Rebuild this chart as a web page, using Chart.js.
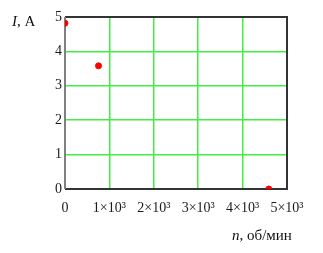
<!DOCTYPE html>
<html>
<head>
<meta charset="utf-8">
<script src="https://cdn.jsdelivr.net/npm/chart.js@4"></script>
<style>
    html, body { margin: 0; padding: 0; background: #fff; }
    #wrap { width: 323px; height: 253px; }
</style>
</head>
<body>
<div id="wrap"><canvas id="plot" width="323" height="253"></canvas></div>
<script>
// speed n (rev/min) vs current I (A)
const speedN = [0, 755, 4590];
const currentI = [4.82, 3.58, 0];
const xTicks = [0, 1000, 2000, 3000, 4000, 5000];
const xTickLabels = ["0", "1×10³", "2×10³", "3×10³", "4×10³", "5×10³"];
const yTicks = [0, 1, 2, 3, 4, 5];

const serif = "'Liberation Serif', 'DejaVu Serif', serif";

// frame around plot + axis titles
const framePlugin = {
    id: "frame",
    beforeDatasetsDraw(chart) {
        const a = chart.chartArea;
        const ctx = chart.ctx;
        ctx.save();
        ctx.lineWidth = 2;
        ctx.strokeStyle = "#333";
        ctx.beginPath();
        ctx.moveTo(a.left, a.top);
        ctx.lineTo(a.right, a.top);
        ctx.lineTo(a.right, a.bottom);
        ctx.lineTo(a.left, a.bottom);
        ctx.stroke();
        ctx.strokeStyle = "#808080";
        ctx.beginPath();
        ctx.moveTo(a.left, a.top);
        ctx.lineTo(a.left, a.bottom);
        ctx.stroke();
        ctx.restore();
    },
    afterDraw(chart) {
        const ctx = chart.ctx;
        ctx.save();
        ctx.fillStyle = "#111";
        ctx.textBaseline = "middle";
        ctx.font = "italic 15px " + serif;
        ctx.fillText("I", 12, 22);
        let w = ctx.measureText("I").width;
        ctx.font = "15px " + serif;
        ctx.fillText(", A", 12 + w, 22);

        ctx.font = "italic 15px " + serif;
        ctx.fillText("n", 232, 236);
        w = ctx.measureText("n").width;
        ctx.font = "15px " + serif;
        ctx.fillText(", об/мин", 232 + w, 236);
        ctx.restore();
    }
};

const points = speedN.map((n, i) => ({ x: n, y: currentI[i] }));

new Chart(document.getElementById("plot").getContext("2d"), {
    type: "scatter",
    data: {
        datasets: [{
            data: points,
            backgroundColor: "#ff0000",
            borderColor: "#ff0000",
            pointRadius: 3,
            pointHoverRadius: 3
        }]
    },
    options: {
        responsive: false,
        animation: false,
        devicePixelRatio: 1,
        layout: { padding: { left: 0, right: 36, top: 17, bottom: 0 } },
        plugins: {
            legend: { display: false },
            tooltip: { enabled: false }
        },
        scales: {
            x: {
                type: "linear",
                min: 0,
                max: 5000,
                afterBuildTicks: scale => { scale.ticks = xTicks.map(v => ({ value: v })); },
                afterFit: scale => { scale.height = 64; },
                border: { display: false },
                grid: { color: "#40f040", lineWidth: 1.5, drawTicks: false },
                ticks: {
                    padding: 11,
                    maxRotation: 0,
                    color: "#1a1a1a",
                    font: { family: serif, size: 14 },
                    callback: (v) => xTickLabels[xTicks.indexOf(v)]
                }
            },
            y: {
                type: "linear",
                min: 0,
                max: 5,
                afterBuildTicks: scale => { scale.ticks = yTicks.map(v => ({ value: v })); },
                afterFit: scale => { scale.width = 65; },
                border: { display: false },
                grid: { color: "#40f040", lineWidth: 1.5, drawTicks: false },
                ticks: {
                    padding: 3,
                    color: "#1a1a1a",
                    font: { family: serif, size: 14 }
                }
            }
        }
    },
    plugins: [framePlugin]
});
</script>
</body>
</html>
